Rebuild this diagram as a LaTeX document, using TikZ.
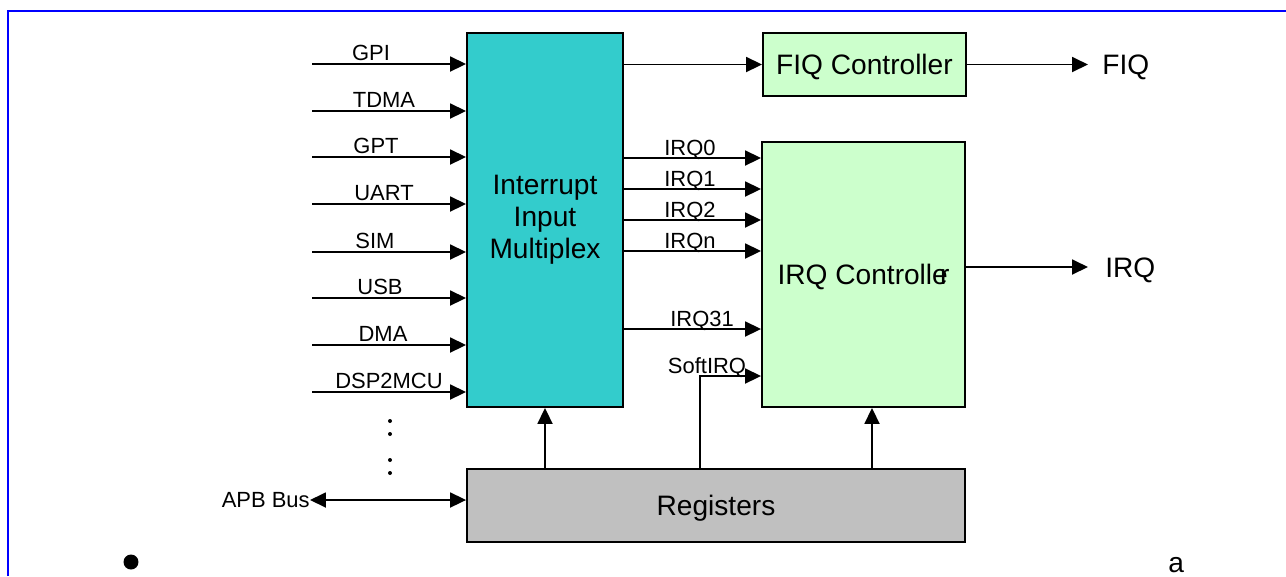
\documentclass[tikz,border=0pt]{standalone}
\usepackage{fontspec}
\setmainfont{Liberation Sans}
\usepackage{tikz}
\usetikzlibrary{arrows.meta, positioning, calc}
\definecolor{muxteal}{RGB}{51,204,204}
\definecolor{ctrlgreen}{RGB}{204,255,204}
\definecolor{reggray}{RGB}{192,192,192}
\definecolor{frameblue}{RGB}{0,0,255}
\tikzset{
  box/.style={rectangle, draw=black, line width=1.1pt, align=center,
    inner sep=0pt, font=\fontsize{16}{18.2}\selectfont},
  muxbox/.style={box, fill=muxteal, minimum width=3.12cm, minimum height=7.48cm},
  ctrlbox/.style={box, fill=ctrlgreen, minimum width=4.06cm, text depth=0pt},
  regbox/.style={box, fill=reggray, minimum width=9.96cm, minimum height=1.46cm, text depth=0pt},
  siglbl/.style={font=\fontsize{12.5}{15}\selectfont, inner sep=0pt},
  outlbl/.style={font=\fontsize{16}{19}\selectfont, inner sep=0pt},
  arrow/.style={-{Triangle[length=0.32cm, width=0.3cm]}, line width=1.05pt, color=black},
  dblarrow/.style={{Triangle[length=0.32cm, width=0.3cm]}-{Triangle[length=0.32cm, width=0.3cm]},
    line width=1.05pt, color=black}
}
\begin{document}
\begin{tikzpicture}[x=0.02cm, y=-0.02cm]
  \useasboundingbox (0,0) rectangle (1286,576);
  % frame
  \draw[frameblue, line width=0.04cm] (8,576) -- (8,11) -- (1286,11);

  % blocks
  \node[muxbox] (mux) at (545,220) {Interrupt\\Input\\Multiplex};
  \node[ctrlbox, minimum height=1.26cm] (fiq) at (864.5,64.5) {FIQ Controller};
  \node[ctrlbox, minimum height=5.3cm] (irq) at (863.5,274.5) {IRQ Controlle\kern-0.28em r};
  \node[regbox] (regs) at (716,505.5) {Registers};

  % interrupt sources
  \foreach \src/\y/\lx in {GPI/64/371, TDMA/111/384, GPT/157/376, UART/204/384,
      SIM/252/375, USB/298/380, DMA/345/383, DSP2MCU/392/389} {
    \coordinate (in\src) at (312,\y);
    \draw[arrow] (in\src) -- (in\src -| mux.west);
    \node[siglbl, anchor=base] at (\lx,\y-4) {\src};
  }
  \foreach \y in {421,434,460,473}
    \fill (390,\y) circle (0.04cm);

  % APB bus
  \node[siglbl, anchor=east] (apb) at (310,500) {APB Bus};
  \draw[dblarrow] (apb.east) -- (apb.east -| regs.west);

  % FIQ path
  \draw[arrow] (mux.east |- fiq.west) -- (fiq.west);
  \node[outlbl, anchor=west] (fiqout) at (1102,67) {FIQ};
  \draw[arrow] (fiq.east) -- (fiq.east -| fiqout.west) [shorten >=0.28cm];

  % IRQ lines
  \foreach \n/\y/\lx in {0/158/664, 1/189/664, 2/220/664, n/251/664, 31/329/670} {
    \draw[arrow] (mux.east |- 0,\y) -- (irq.west |- 0,\y);
    \node[siglbl, anchor=base west] at (\lx,\y-3) {IRQ\n};
  }
  \draw[arrow] (regs.north -| 700,0) |- (irq.west |- 0,376);
  \node[siglbl, anchor=base] at (707,373) {SoftIRQ};
  \node[outlbl, anchor=west] (irqout) at (1105,270) {IRQ};
  \draw[arrow] (irq.east |- 0,267) -- (irqout.west |- 0,267) [shorten >=0.34cm];

  % register control
  \draw[arrow] (regs.north -| mux) -- (mux.south);
  \draw[arrow] (regs.north -| 872,0) -- (irq.south -| 872,0);

  % stray marks
  \fill (131,562) circle (0.15cm);
  \node[outlbl, anchor=base west] (amark) at (1168,572) {a};
\end{tikzpicture}
\end{document}
